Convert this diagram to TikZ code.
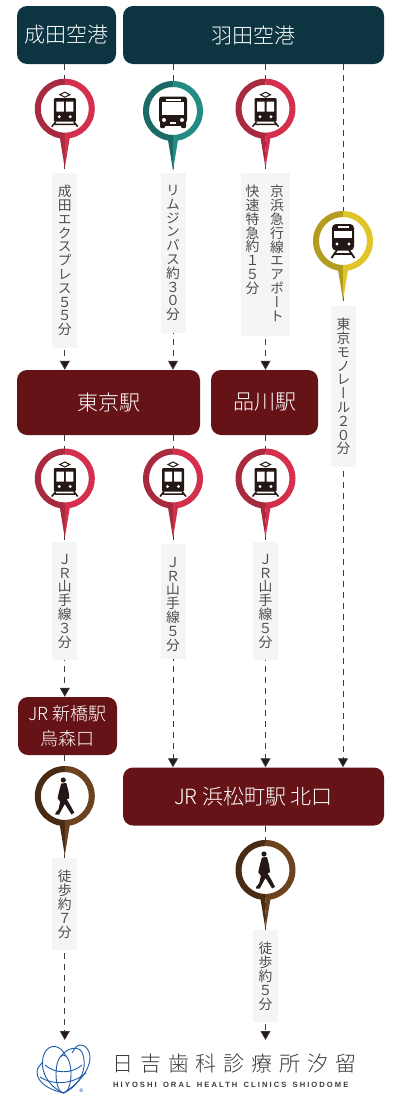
\documentclass[tikz,border=0pt]{standalone}
\usepackage{xcolor}
\usepackage{fontspec}
\usepackage{tikz}
\usetikzlibrary{arrows.meta,backgrounds}
\setmainfont{Noto Sans}
\newfontfamily\jpfont[UprightFont=* Light]{Noto Sans CJK JP}
\newfontfamily\jpvert[UprightFont=*,RawFeature=+vert]{Noto Sans CJK JP}
\newfontfamily\latinlogo[UprightFont=* Bold,LetterSpace=27,WordSpace=1.5]{Liberation Sans}
\newcommand{\verttext}{\fontsize{13.8}{13.8}\selectfont\jpvert\lineskiplimit=-20pt\lineskip=0pt\relax}
\definecolor{airportblue}{HTML}{0C3441}
\definecolor{stationred}{HTML}{661317}
\definecolor{labelgray}{HTML}{F5F5F5}
\definecolor{inkblack}{HTML}{231815}
\definecolor{textgray}{HTML}{4D4D4D}
\definecolor{reddark}{HTML}{A82A3F}
\definecolor{redlight}{HTML}{D42F4C}
\definecolor{tealdark}{HTML}{1B6A66}
\definecolor{teallight}{HTML}{258C84}
\definecolor{yellowdark}{HTML}{B39C20}
\definecolor{yellowlight}{HTML}{E0C428}
\definecolor{browndark}{HTML}{492A12}
\definecolor{brownlight}{HTML}{6D421E}
\definecolor{logoblue}{HTML}{1F5AA6}
\definecolor{logogray}{HTML}{3E3A39}
\tikzset{
	airportbox/.style={rounded corners=10pt,fill=airportblue,text=white,minimum height=58pt,inner sep=0pt,font=\fontsize{21}{25}\selectfont\jpfont},
	stationbox/.style={rounded corners=10pt,fill=stationred,text=white,inner sep=0pt,align=center,font=\fontsize{21}{25}\selectfont\jpfont},
	timetext/.style={inner sep=0pt,align=center,text=textgray,font=\verttext},
	timebox/.style={timetext,anchor=north,fill=labelgray,minimum width=25pt,inner ysep=12pt},
	route/.style={draw=logogray,line width=0.8pt,dash pattern=on 6pt off 5pt},
	routearrow/.style={route,-{Triangle[width=10pt,length=9pt,fill=inkblack,sep=0pt]}},
	trainicon/.pic={
		\fill[inkblack,rounded corners=1pt] (-11,-10.5) rectangle (11,13);
		\fill[white] (-8.5,-7) rectangle (-1,3) (1,-7) rectangle (8.5,3);
		\fill[white] (-5.5,8) circle (1.6pt) (5.5,8) circle (1.6pt);
		\draw[inkblack,line width=1pt] (0,-16.5) -- (5,-14) -- (0,-11.5) -- (-5,-14) -- cycle;
		\draw[inkblack,line width=1.5pt] (-9,13) -- (-13,18) (9,13) -- (13,18) (-10,15.6) -- (10,15.6);
	},
	busicon/.pic={
		\fill[inkblack,rounded corners=3pt] (-14,-14.5) rectangle (14,12);
		\fill[inkblack,rounded corners=1pt] (-13,8) rectangle (-8,17) (8,8) rectangle (13,17);
		\fill[inkblack] (-8,12) rectangle (8,15);
		\fill[white] (-11,-9) rectangle (11,3.5);
		\fill[white] (-7.5,-12.5) rectangle (7.5,-10.5);
		\fill[white] (-9,9) circle (2pt) (9,9) circle (2pt);
		\fill[white] (-3,11) rectangle (3,13);
	},
	metroicon/.pic={
		\fill[inkblack,rounded corners=4pt] (-11,-17) rectangle (11,9.5);
		\fill[white] (-9,-10.5) rectangle (9,-3);
		\fill[white] (-5.5,-15) rectangle (5.5,-13.5);
		\fill[white] (-6,3) circle (1.6pt) (6,3) circle (1.6pt);
		\draw[inkblack,line width=1.8pt] (-6,9) -- (-11.5,17) (6,9) -- (11.5,17) (-8,13) -- (8,13);
	},
	walkericon/.pic={
		\fill[inkblack] (-1.5,-16) circle (2.6pt);
		\fill[inkblack] (-3.6,-12.5) -- (1.5,-13) -- (3.8,-4.3) -- (4.5,2.3) -- (2,3.3) -- (5.4,9) -- (9.5,16.7) -- (6.7,18.5)
			-- (0,8) -- (-3.3,14) -- (-5.7,18.5) -- (-9.5,18.5) -- (-9.2,16.7) -- (-6.3,13.3) -- (-4.6,5.7) -- (-7.2,2.3) -- (-6.2,-2.7) -- cycle;
	}
}
% name, position, dark half, light half, icon
\newcommand{\mappin}[5]{
	\begin{scope}[shift={(#2)}]
		\node[circle,fill=white,inner sep=0pt,minimum size=49pt] (#1) at (0,0) {};
		\fill[#3] (0,-30) arc[start angle=90,end angle=270,radius=30pt] -- (0,24) arc[start angle=270,end angle=90,radius=24pt] -- cycle;
		\fill[#4] (0,-30) arc[start angle=90,end angle=-90,radius=30pt] -- (0,24) arc[start angle=-90,end angle=90,radius=24pt] -- cycle;
		\fill[#3] (-5,29) -- (0,29) -- (0,59.5) -- cycle;
		\fill[#4] (5,29) -- (0,29) -- (0,59.5) -- cycle;
		\pic {#5};
	\end{scope}
}
\begin{document}
\begin{tikzpicture}[x=1pt,y=-1pt]
	\useasboundingbox (0,0) rectangle (400,1100);

	\node[airportbox,minimum width=99pt] (narita) at (66.5,35) {成田空港};
	\node[airportbox,minimum width=261pt] (haneda) at (253.5,35) {羽田空港};
	\node[stationbox,minimum width=183pt,minimum height=65pt] (tokyo) at (108.5,402.5) {東京駅};
	\node[stationbox,minimum width=107pt,minimum height=65pt] (shinagawa) at (264.5,402.5) {品川駅};
	\node[stationbox,minimum width=99pt,minimum height=58pt,font=\fontsize{18}{25}\selectfont\jpfont] (shinbashi) at (67.5,726) {JR 新橋駅\\烏森口};
	\node[stationbox,minimum width=261pt,minimum height=58pt] (hamamatsucho) at (253.5,796.5) {JR 浜松町駅 北口};

	\mappin{pina}{64.8,108.7}{reddark}{redlight}{trainicon}
	\mappin{pinb}{173,111}{tealdark}{teallight}{busicon}
	\mappin{pinc}{265.5,108.7}{reddark}{redlight}{trainicon}
	\mappin{pind}{343,241}{yellowdark}{yellowlight}{metroicon}
	\mappin{pine}{64.8,478.5}{reddark}{redlight}{trainicon}
	\mappin{pinf}{173,478.5}{reddark}{redlight}{trainicon}
	\mappin{ping}{265.5,478.5}{reddark}{redlight}{trainicon}
	\mappin{pinh}{64.8,796}{browndark}{brownlight}{walkericon}
	\mappin{pini}{265.5,870}{browndark}{brownlight}{walkericon}

	\node[timebox] (timea) at (64.8,173) {成\\田\\エ\\ク\\ス\\プ\\レ\\ス\\５\\５\\分};
	\node[timebox] (timeb) at (173,173) {リ\\ム\\ジ\\ン\\バ\\ス\\約\\３\\０\\分};
	\node[timebox,minimum width=49pt,minimum height=163pt] (timec) at (265.5,173) {};
	\node[timetext,anchor=north] (timecright) at (277,185) {京\\浜\\急\\行\\線\\エ\\ア\\ポ\\ー\\ト};
	\node[timetext,anchor=north] (timecleft) at (252.5,185) {快\\速\\特\\急\\約\\１\\５\\分};
	\node[timebox] (timed) at (343.5,306) {東\\京\\モ\\ノ\\レ\\ー\\ル\\２\\０\\分};
	\node[timebox] (timee) at (64.8,542) {Ｊ\\Ｒ\\山\\手\\線\\３\\分};
	\node[timebox,minimum height=115pt] (timef) at (173,544) {};
	\node[timetext,anchor=north] (timefinner) at (173,557) {Ｊ\\Ｒ\\山\\手\\線\\５\\分};
	\node[timebox] (timeg) at (265.5,542) {Ｊ\\Ｒ\\山\\手\\線\\５\\分};
	\node[timebox] (timeh) at (64.8,858) {徒\\歩\\約\\７\\分};
	\node[timebox] (timei) at (265.5,930) {徒\\歩\\約\\５\\分};

	\coordinate (goala) at (64.8,1040);
	\coordinate (goalb) at (265.5,1040);

	\begin{scope}[on background layer]
		\draw[routearrow] (narita.south -| pina) -- (tokyo.north -| pina);
		\draw[routearrow] (haneda.south -| pinb) -- (tokyo.north -| pinb);
		\draw[routearrow] (haneda.south -| pinc) -- (shinagawa.north -| pinc);
		\draw[routearrow] (haneda.south -| pind) -- (hamamatsucho.north -| pind);
		\draw[routearrow] (tokyo.south -| pine) -- (shinbashi.north -| pine);
		\draw[routearrow] (tokyo.south -| pinf) -- (hamamatsucho.north -| pinf);
		\draw[routearrow] (shinagawa.south -| ping) -- (hamamatsucho.north -| ping);
		\draw[routearrow] (shinbashi.south -| pinh) -- (goala);
		\draw[routearrow] (hamamatsucho.south -| pini) -- (goalb);
	\end{scope}

	\begin{scope}[line width=0.9pt]
		\draw[logoblue] (63.5,1093) .. controls (45,1085) and (38,1065) .. (45,1052) .. controls (50,1044) and (60,1044) .. (66,1056);
		\draw[logoblue] (63.5,1093) .. controls (82,1085) and (88,1065) .. (82,1052) .. controls (78,1046) and (68,1047) .. (61,1056);
		\draw[logoblue] (63.5,1074) ellipse (7.5pt and 19pt);
		\draw[logoblue] (45,1065) .. controls (55,1074) and (72,1074) .. (82,1065);
		\draw[logoblue] (40,1077) .. controls (52,1085) and (72,1085) .. (86,1073);
		\draw[logoblue] (63.5,1093) .. controls (50,1090) and (37,1083) .. (37,1072) .. controls (37,1068) and (40,1065) .. (43,1062);
		\draw[logoblue] (80,1045) .. controls (88,1045) and (92,1055) .. (89,1064) .. controls (86,1075) and (75,1086) .. (63.5,1093);
		\draw[logoblue] (72,1053) .. controls (75,1047) and (78,1045) .. (80,1045);
	\end{scope}
	\node[inner sep=0pt,text=logoblue,font=\fontsize{5}{5}\selectfont] (logomark) at (81.5,1090.5) {®};
	\node[inner sep=0pt,anchor=west,text=logogray,font=\fontsize{21}{25}\selectfont\jpfont\addfontfeatures{LetterSpace=33}] (logoname) at (112,1064) {日吉歯科診療所汐留};
	\node[inner sep=0pt,anchor=west,text=logogray,font=\fontsize{7.6}{9}\selectfont\latinlogo] (logolatin) at (113,1085) {HIYOSHI ORAL HEALTH CLINICS SHIODOME};
\end{tikzpicture}
\end{document}
